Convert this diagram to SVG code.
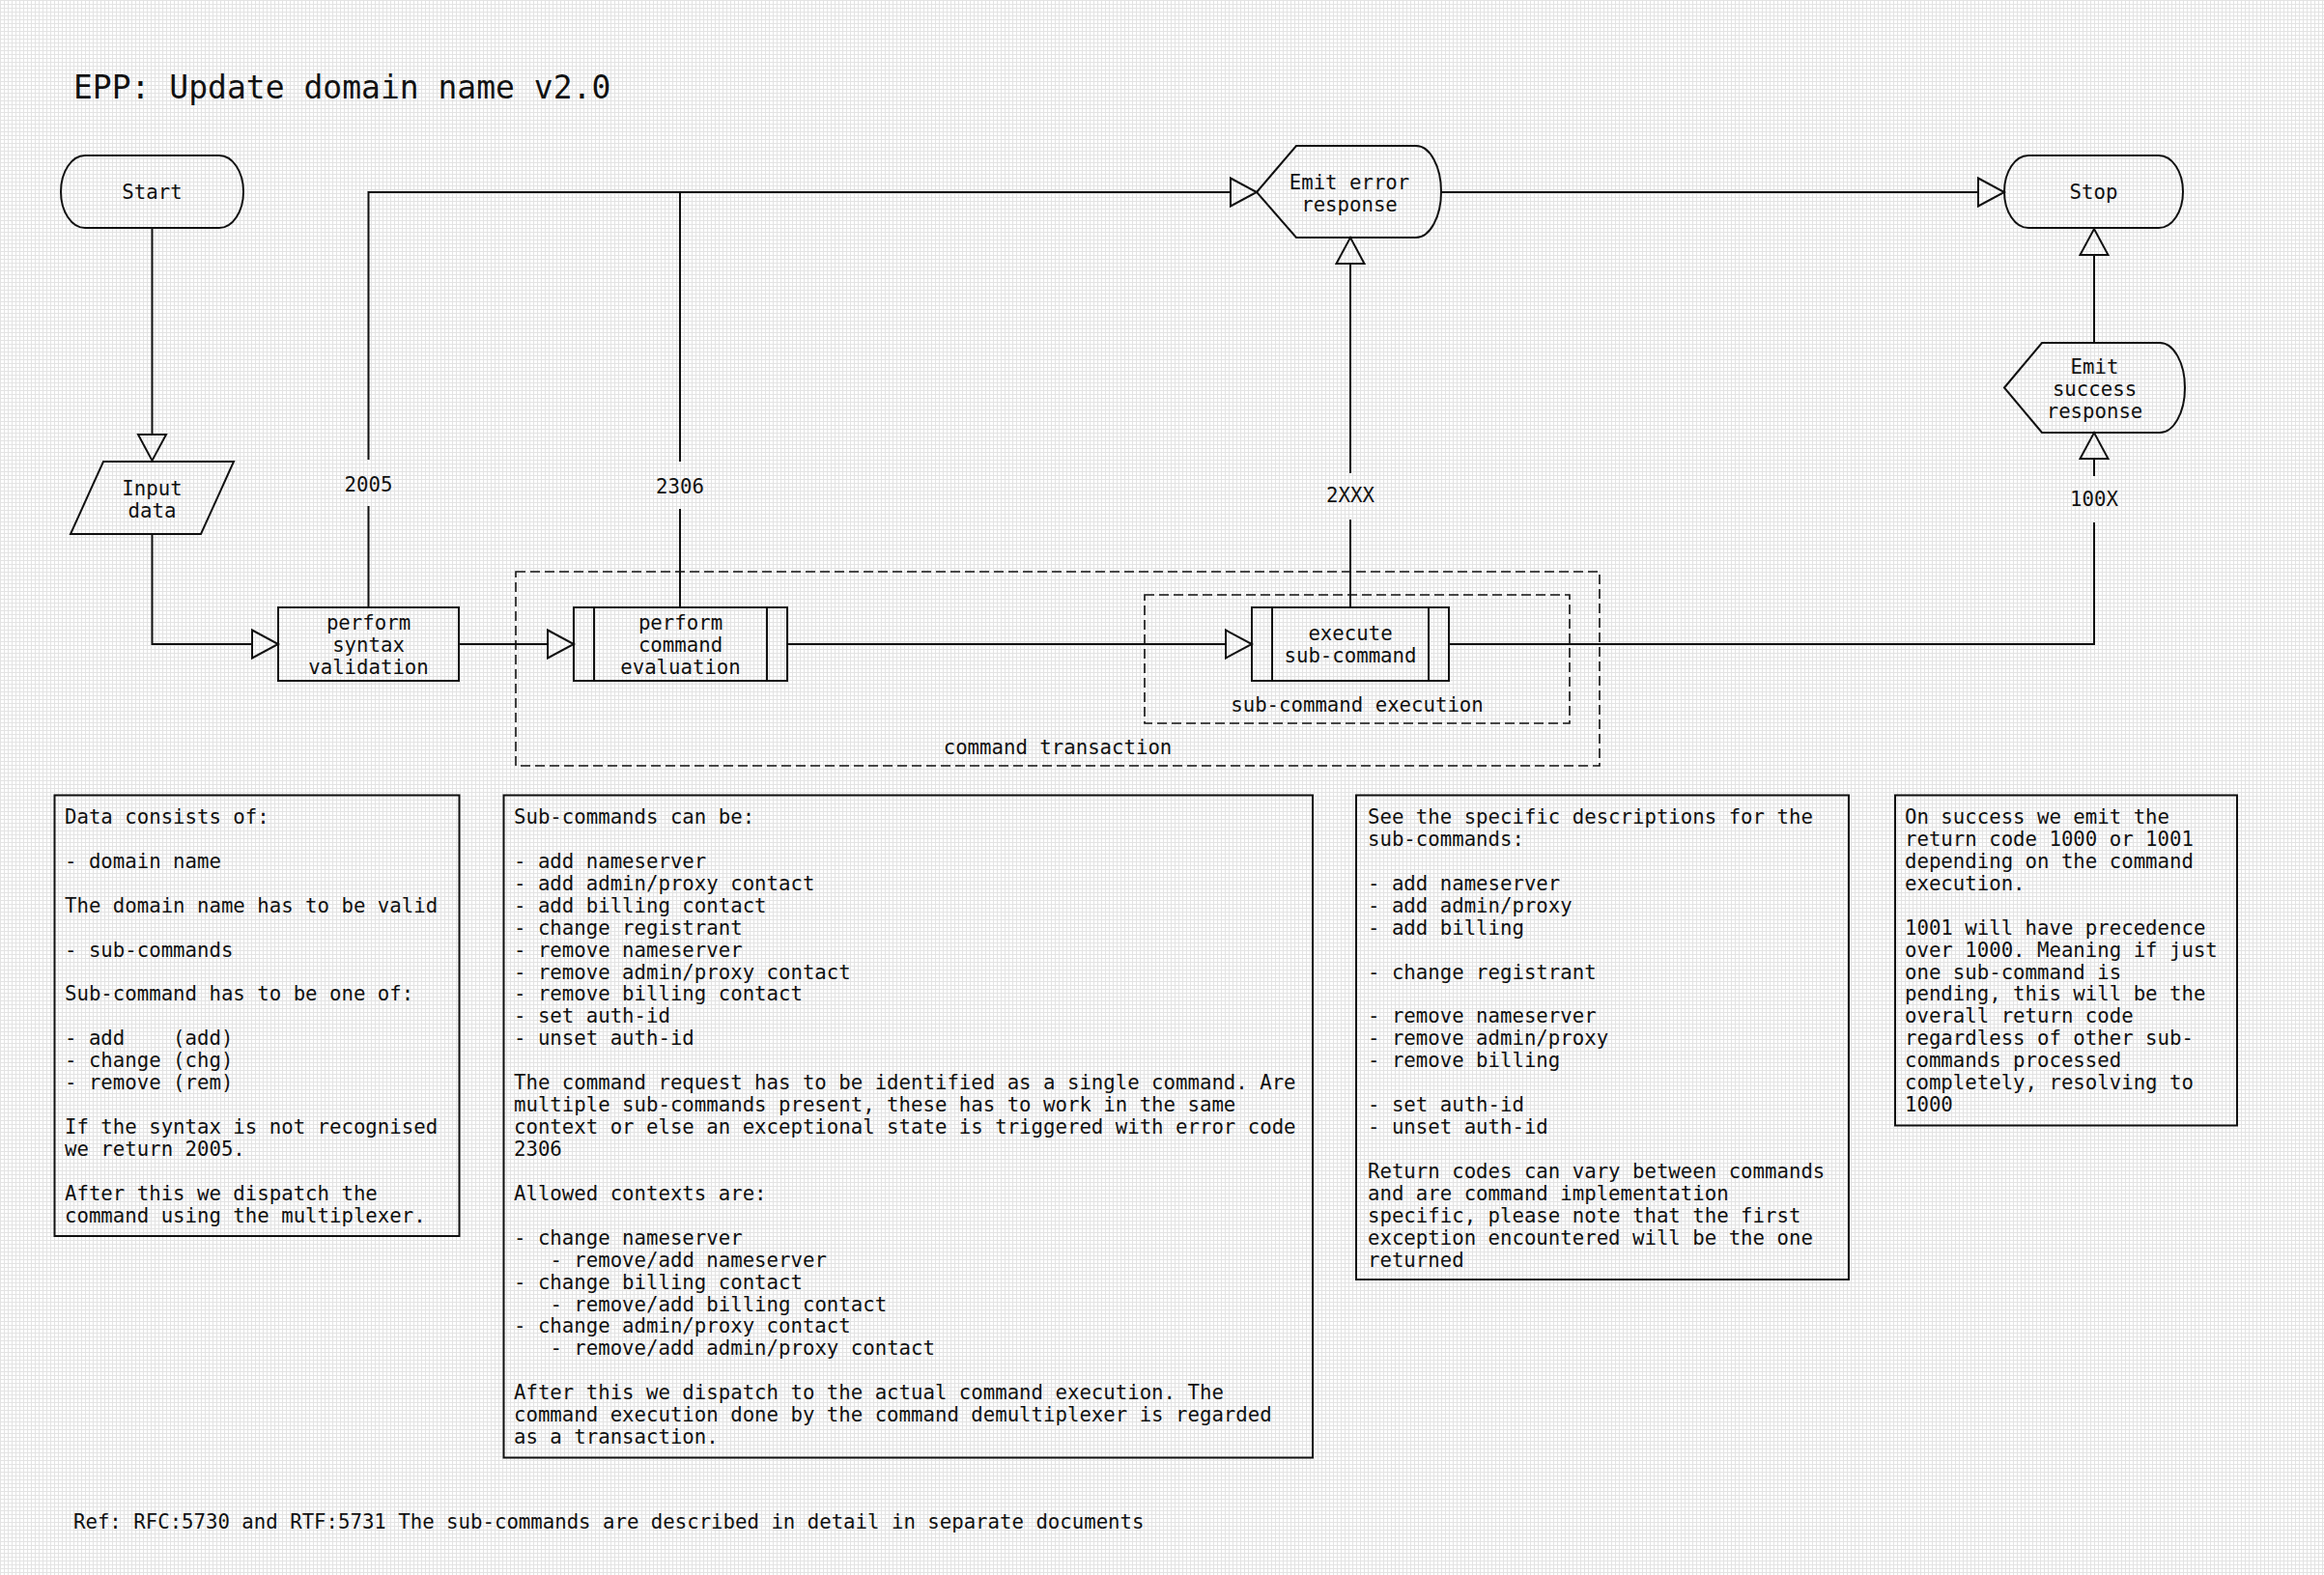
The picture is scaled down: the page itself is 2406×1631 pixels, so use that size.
<svg xmlns="http://www.w3.org/2000/svg" width="2406" height="1631" viewBox="0 0 2406 1631">
  <style>
    .t { font-family: "DejaVu Sans Mono", "Liberation Mono", monospace; font-size: 20.7px; fill: #111; }
    .c { text-anchor: middle; }
    .title { font-family: "DejaVu Sans Mono", "Liberation Mono", monospace; font-size: 33px; fill: #111; }
    .shape { fill: none; stroke: #111; stroke-width: 2; }
    .group { fill: none; stroke: #111; stroke-width: 1.6; stroke-dasharray: 10 5; }
    .note { fill: none; stroke: #111; stroke-width: 2; }
    .conn { fill: none; stroke: #111; stroke-width: 2; }
  </style>
  <defs>
    <pattern id="grid" width="4" height="4" patternUnits="userSpaceOnUse">
      <rect width="4" height="4" fill="#ffffff"/>
      <path d="M0,0.5H4M0.5,0V4" stroke="#e3e3e3" stroke-width="1"/>
    </pattern>
    <marker id="arrow" markerUnits="userSpaceOnUse" markerWidth="30" markerHeight="32" refX="0" refY="15" orient="auto" overflow="visible">
      <path d="M0,0.5 L27,15 L0,29.5 Z" fill="none" stroke="#111" stroke-width="2"/>
    </marker>
  </defs>

  <rect width="2406" height="1631" fill="url(#grid)"/>

  <text class="title" x="76" y="102">EPP: Update domain name v2.0</text>

  <!-- grouping frames -->
  <g id="command-transaction">
    <rect class="group" x="534" y="592" width="1122" height="201"/>
    <text class="t c" x="1095" y="781">command transaction</text>
  </g>
  <g id="sub-command-execution">
    <rect class="group" x="1185" y="616" width="440" height="133"/>
    <text class="t c" x="1405" y="737">sub-command execution</text>
  </g>

  <!-- connectors -->
  <g id="connectors">
    <path class="conn" d="M157.5,236 V450" marker-end="url(#arrow)"/>
    <path class="conn" d="M157.5,553 V667 H261" marker-end="url(#arrow)"/>
    <path class="conn" d="M475,667 H567" marker-end="url(#arrow)"/>
    <path class="conn" d="M815,667 H1269" marker-end="url(#arrow)"/>
    <path class="conn" d="M1500,667 H2168 V541 M2168,493 V475" marker-end="url(#arrow)"/>
    <path class="conn" d="M2168,355 V264" marker-end="url(#arrow)"/>
    <path class="conn" d="M381.5,629 V524 M381.5,476 V199 H1274" marker-end="url(#arrow)"/>
    <path class="conn" d="M704,629 V527 M704,478 V199"/>
    <path class="conn" d="M1398,629 V538 M1398,490 V273" marker-end="url(#arrow)"/>
    <path class="conn" d="M1492,199 H2048" marker-end="url(#arrow)"/>
    <text class="t c" x="381.5" y="509">2005</text>
    <text class="t c" x="704" y="511">2306</text>
    <text class="t c" x="1398" y="520">2XXX</text>
    <text class="t c" x="2168" y="524">100X</text>
  </g>

  <!-- flow nodes -->
  <g id="start">
    <path class="shape" d="M88,161 H227 A25,37.5 0 0 1 227,236 H88 A25,37.5 0 0 1 88,161 Z"/>
    <text class="t c" x="157.5" y="206">Start</text>
  </g>
  <g id="input-data">
    <polygon class="shape" points="107,478 242,478 208,553 73,553"/>
    <text class="t c" x="157.5" y="513">Input</text>
    <text class="t c" x="157.5" y="536">data</text>
  </g>
  <g id="syntax-validation">
    <rect class="shape" x="288" y="629" width="187" height="76"/>
    <text class="t c" x="381.5" y="652">perform</text>
    <text class="t c" x="381.5" y="675">syntax</text>
    <text class="t c" x="381.5" y="698">validation</text>
  </g>
  <g id="command-evaluation">
    <rect class="shape" x="594" y="629" width="221" height="76"/>
    <path class="shape" d="M615,629 V705 M794,629 V705"/>
    <text class="t c" x="704.5" y="652">perform</text>
    <text class="t c" x="704.5" y="675">command</text>
    <text class="t c" x="704.5" y="698">evaluation</text>
  </g>
  <g id="execute-sub-command">
    <rect class="shape" x="1296" y="629" width="204" height="76"/>
    <path class="shape" d="M1317,629 V705 M1479,629 V705"/>
    <text class="t c" x="1398" y="663">execute</text>
    <text class="t c" x="1398" y="686">sub-command</text>
  </g>
  <g id="emit-error">
    <path class="shape" d="M1301,199 L1342,151 H1466 A26,47.5 0 0 1 1466,246 H1342 Z"/>
    <text class="t c" x="1397" y="195.5">Emit error</text>
    <text class="t c" x="1397" y="218.5">response</text>
  </g>
  <g id="stop">
    <path class="shape" d="M2100,161 H2235 A25,37.5 0 0 1 2235,236 H2100 A25,37.5 0 0 1 2100,161 Z"/>
    <text class="t c" x="2167.5" y="206">Stop</text>
  </g>
  <g id="emit-success">
    <path class="shape" d="M2075,401.5 L2114,355 H2236 A26,46.5 0 0 1 2236,448 H2114 Z"/>
    <text class="t c" x="2168.5" y="387">Emit</text>
    <text class="t c" x="2168.5" y="410">success</text>
    <text class="t c" x="2168.5" y="433">response</text>
  </g>

  <!-- notes -->
  <g id="note-input">
    <rect class="note" x="56.5" y="823.5" width="419" height="456.5"/>
    <text class="t">
      <tspan x="67" y="853">Data consists of:</tspan>
      <tspan x="67" y="898.9">- domain name</tspan>
      <tspan x="67" y="944.7">The domain name has to be valid</tspan>
      <tspan x="67" y="990.6">- sub-commands</tspan>
      <tspan x="67" y="1036.4">Sub-command has to be one of:</tspan>
      <tspan x="67" y="1082.3">- add&#160;&#160;&#160;&#160;(add)</tspan>
      <tspan x="67" y="1105.2">- change (chg)</tspan>
      <tspan x="67" y="1128.2">- remove (rem)</tspan>
      <tspan x="67" y="1174">If the syntax is not recognised</tspan>
      <tspan x="67" y="1196.9">we return 2005.</tspan>
      <tspan x="67" y="1242.8">After this we dispatch the</tspan>
      <tspan x="67" y="1265.7">command using the multiplexer.</tspan>
    </text>
  </g>
  <g id="note-commands">
    <rect class="note" x="521.5" y="823.5" width="837.5" height="686"/>
    <text class="t">
      <tspan x="532" y="853">Sub-commands can be:</tspan>
      <tspan x="532" y="898.9">- add nameserver</tspan>
      <tspan x="532" y="921.8">- add admin/proxy contact</tspan>
      <tspan x="532" y="944.7">- add billing contact</tspan>
      <tspan x="532" y="967.7">- change registrant</tspan>
      <tspan x="532" y="990.6">- remove nameserver</tspan>
      <tspan x="532" y="1013.5">- remove admin/proxy contact</tspan>
      <tspan x="532" y="1036.4">- remove billing contact</tspan>
      <tspan x="532" y="1059.4">- set auth-id</tspan>
      <tspan x="532" y="1082.3">- unset auth-id</tspan>
      <tspan x="532" y="1128.2">The command request has to be identified as a single command. Are</tspan>
      <tspan x="532" y="1151.1">multiple sub-commands present, these has to work in the same</tspan>
      <tspan x="532" y="1174">context or else an exceptional state is triggered with error code</tspan>
      <tspan x="532" y="1196.9">2306</tspan>
      <tspan x="532" y="1242.8">Allowed contexts are:</tspan>
      <tspan x="532" y="1288.7">- change nameserver</tspan>
      <tspan x="569.4" y="1311.6">- remove/add nameserver</tspan>
      <tspan x="532" y="1334.5">- change billing contact</tspan>
      <tspan x="569.4" y="1357.5">- remove/add billing contact</tspan>
      <tspan x="532" y="1380.4">- change admin/proxy contact</tspan>
      <tspan x="569.4" y="1403.3">- remove/add admin/proxy contact</tspan>
      <tspan x="532" y="1449.2">After this we dispatch to the actual command execution. The</tspan>
      <tspan x="532" y="1472.1">command execution done by the command demultiplexer is regarded</tspan>
      <tspan x="532" y="1495">as a transaction.</tspan>
    </text>
  </g>
  <g id="note-sub-commands">
    <rect class="note" x="1404" y="823.5" width="510" height="501.5"/>
    <text class="t">
      <tspan x="1416" y="853">See the specific descriptions for the</tspan>
      <tspan x="1416" y="875.9">sub-commands:</tspan>
      <tspan x="1416" y="921.8">- add nameserver</tspan>
      <tspan x="1416" y="944.7">- add admin/proxy</tspan>
      <tspan x="1416" y="967.7">- add billing</tspan>
      <tspan x="1416" y="1013.5">- change registrant</tspan>
      <tspan x="1416" y="1059.4">- remove nameserver</tspan>
      <tspan x="1416" y="1082.3">- remove admin/proxy</tspan>
      <tspan x="1416" y="1105.2">- remove billing</tspan>
      <tspan x="1416" y="1151.1">- set auth-id</tspan>
      <tspan x="1416" y="1174">- unset auth-id</tspan>
      <tspan x="1416" y="1219.9">Return codes can vary between commands</tspan>
      <tspan x="1416" y="1242.8">and are command implementation</tspan>
      <tspan x="1416" y="1265.7">specific, please note that the first</tspan>
      <tspan x="1416" y="1288.7">exception encountered will be the one</tspan>
      <tspan x="1416" y="1311.6">returned</tspan>
    </text>
  </g>
  <g id="note-success">
    <rect class="note" x="1962" y="823.5" width="354" height="342"/>
    <text class="t">
      <tspan x="1972" y="853">On success we emit the</tspan>
      <tspan x="1972" y="875.9">return code 1000 or 1001</tspan>
      <tspan x="1972" y="898.9">depending on the command</tspan>
      <tspan x="1972" y="921.8">execution.</tspan>
      <tspan x="1972" y="967.7">1001 will have precedence</tspan>
      <tspan x="1972" y="990.6">over 1000. Meaning if just</tspan>
      <tspan x="1972" y="1013.5">one sub-command is</tspan>
      <tspan x="1972" y="1036.4">pending, this will be the</tspan>
      <tspan x="1972" y="1059.4">overall return code</tspan>
      <tspan x="1972" y="1082.3">regardless of other sub-</tspan>
      <tspan x="1972" y="1105.2">commands processed</tspan>
      <tspan x="1972" y="1128.2">completely, resolving to</tspan>
      <tspan x="1972" y="1151.1">1000</tspan>
    </text>
  </g>

  <text class="t" x="76" y="1583">Ref: RFC:5730 and RTF:5731 The sub-commands are described in detail in separate documents</text>
</svg>
